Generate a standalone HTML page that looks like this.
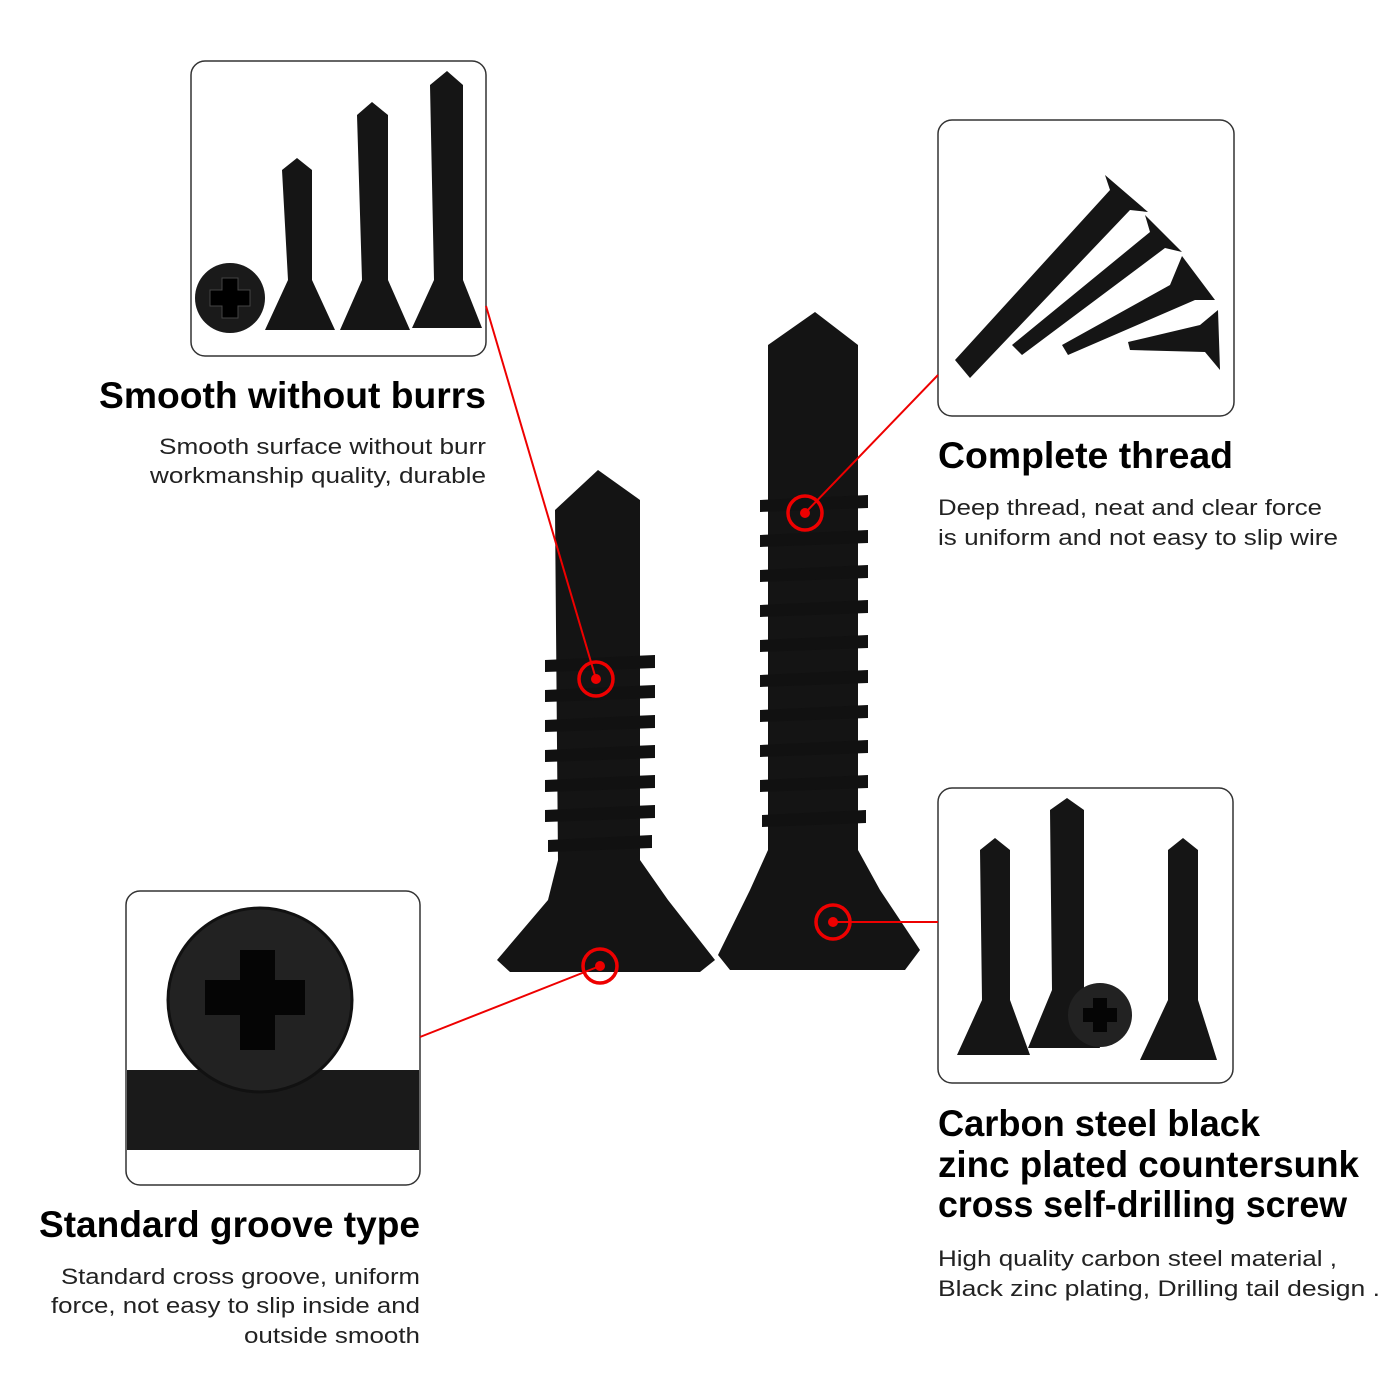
<!DOCTYPE html>
<html><head><meta charset="utf-8"><style>
html,body{margin:0;padding:0;background:#fff}
svg{display:block}
.t{font-family:"Liberation Sans",sans-serif;font-weight:bold;fill:#000}
.s{font-family:"Liberation Sans",sans-serif;fill:#222;font-size:22px}
</style></head><body>
<svg width="1400" height="1400" viewBox="0 0 1400 1400" xmlns="http://www.w3.org/2000/svg">
<!-- boxes -->
<rect x="191" y="61" width="295" height="295" rx="14" fill="#fff" stroke="#333" stroke-width="1.5"/>
<rect x="938" y="120" width="296" height="296" rx="14" fill="#fff" stroke="#333" stroke-width="1.5"/>
<rect x="126" y="891" width="294" height="294" rx="14" fill="#fff" stroke="#333" stroke-width="1.5"/>
<rect x="938" y="788" width="295" height="295" rx="14" fill="#fff" stroke="#333" stroke-width="1.5"/>

<!-- box1 content -->
<circle cx="230" cy="298" r="35" fill="#1a1a1a"/>
<path d="M222 278h16v12h12v16h-12v12h-16v-12h-12v-16h12z" fill="#000" stroke="#444"/>
<g fill="#151515">
<path d="M282 170 L297 158 L312 170 L312 280 L335 330 L265 330 L288 280 Z"/>
<path d="M357 115 L372 102 L388 115 L388 280 L410 330 L340 330 L362 280 Z"/>
<path d="M430 85 L447 71 L463 85 L463 280 L482 328 L412 328 L434 280 Z"/>
</g>
<!-- box2 content -->
<g fill="#151515">
<path d="M955 360 L1110 190 L1105 175 L1148 212 L1130 210 L970 378 Z"/>
<path d="M1012 345 L1150 232 L1145 215 L1182 252 L1165 248 L1022 355 Z"/>
<path d="M1062 345 L1170 285 L1182 256 L1215 300 L1195 300 L1068 355 Z"/>
<path d="M1128 342 L1200 325 L1218 310 L1220 370 L1205 352 L1130 350 Z"/>
</g>
<!-- box3 content -->
<rect x="127" y="1070" width="292" height="80" fill="#1a1a1a"/>
<circle cx="260" cy="1000" r="92" fill="#222" stroke="#111" stroke-width="3"/>
<path d="M240 950 h35 v30 h30 v35 h-30 v35 h-35 v-35 h-35 v-35 h35 z" fill="#050505"/>
<!-- box4 content -->
<g fill="#151515">
<path d="M980 850 L995 838 L1010 850 L1010 1000 L1030 1055 L957 1055 L982 1000 Z"/>
<path d="M1050 810 L1067 798 L1084 810 L1084 990 L1100 1048 L1028 1048 L1052 990 Z"/>
<path d="M1168 850 L1183 838 L1198 850 L1198 1000 L1217 1060 L1140 1060 L1168 1000 Z"/>
</g>
<circle cx="1100" cy="1015" r="32" fill="#222"/>
<path d="M1093 998h14v10h10v14h-10v10h-14v-10h-10v-14h10z" fill="#050505"/>

<!-- main screws -->
<g fill="#141414">
<path d="M555 510 L598 470 L640 500 L640 860 L668 900 L715 960 L700 972 L510 972 L497 960 L548 900 L558 860 Z"/>
<path d="M768 345 L815 312 L858 345 L858 850 L880 890 L920 950 L905 970 L730 970 L718 955 L750 890 L768 850 Z"/>
</g>
<g fill="#111">
<path d="M545 660 L655 655 L655 668 L545 672Z"/><path d="M545 690 L655 685 L655 698 L545 702Z"/>
<path d="M545 720 L655 715 L655 728 L545 732Z"/><path d="M545 750 L655 745 L655 758 L545 762Z"/>
<path d="M545 780 L655 775 L655 788 L545 792Z"/><path d="M545 810 L655 805 L655 818 L545 822Z"/>
<path d="M548 840 L652 835 L652 848 L548 852Z"/>
<path d="M760 500 L868 495 L868 508 L760 512Z"/><path d="M760 535 L868 530 L868 543 L760 547Z"/>
<path d="M760 570 L868 565 L868 578 L760 582Z"/><path d="M760 605 L868 600 L868 613 L760 617Z"/>
<path d="M760 640 L868 635 L868 648 L760 652Z"/><path d="M760 675 L868 670 L868 683 L760 687Z"/>
<path d="M760 710 L868 705 L868 718 L760 722Z"/><path d="M760 745 L868 740 L868 753 L760 757Z"/>
<path d="M760 780 L868 775 L868 788 L760 792Z"/><path d="M762 815 L866 810 L866 823 L762 827Z"/>
</g>

<!-- connectors -->
<g stroke="#e00" stroke-width="2" fill="none">
<line x1="486" y1="306" x2="596" y2="679"/>
<line x1="938" y1="375" x2="805" y2="513"/>
<line x1="420" y1="1037" x2="600" y2="966"/>
<line x1="938" y1="922" x2="833" y2="922"/>
<g stroke-width="3.5">
<circle cx="596" cy="679" r="17"/><circle cx="805" cy="513" r="17"/>
<circle cx="600" cy="966" r="17"/><circle cx="833" cy="922" r="17"/>
</g>
</g>
<g fill="#e00"><circle cx="596" cy="679" r="5"/><circle cx="805" cy="513" r="5"/><circle cx="600" cy="966" r="5"/><circle cx="833" cy="922" r="5"/></g>

<!-- text -->
<text class="t" x="486" y="408" font-size="37" text-anchor="end" textLength="387" lengthAdjust="spacingAndGlyphs">Smooth without burrs</text>
<text class="s" x="486" y="454" text-anchor="end" textLength="327" lengthAdjust="spacingAndGlyphs">Smooth surface without burr</text>
<text class="s" x="486" y="483" text-anchor="end" textLength="336" lengthAdjust="spacingAndGlyphs">workmanship quality, durable</text>

<text class="t" x="938" y="468" font-size="37" textLength="295" lengthAdjust="spacingAndGlyphs">Complete thread</text>
<text class="s" x="938" y="515" textLength="384" lengthAdjust="spacingAndGlyphs">Deep thread, neat and clear force</text>
<text class="s" x="938" y="545" textLength="400" lengthAdjust="spacingAndGlyphs">is uniform and not easy to slip wire</text>

<text class="t" x="420" y="1237" font-size="37" text-anchor="end" textLength="381" lengthAdjust="spacingAndGlyphs">Standard groove type</text>
<text class="s" x="420" y="1284" text-anchor="end" textLength="359" lengthAdjust="spacingAndGlyphs">Standard cross groove, uniform</text>
<text class="s" x="420" y="1313" text-anchor="end" textLength="369" lengthAdjust="spacingAndGlyphs">force, not easy to slip inside and</text>
<text class="s" x="420" y="1343" text-anchor="end" textLength="176" lengthAdjust="spacingAndGlyphs">outside smooth</text>

<text class="t" x="938" y="1136" font-size="37" textLength="322" lengthAdjust="spacingAndGlyphs">Carbon steel black</text>
<text class="t" x="938" y="1177" font-size="37" textLength="421" lengthAdjust="spacingAndGlyphs">zinc plated countersunk</text>
<text class="t" x="938" y="1217" font-size="37" textLength="409" lengthAdjust="spacingAndGlyphs">cross self-drilling screw</text>
<text class="s" x="938" y="1266" textLength="399" lengthAdjust="spacingAndGlyphs">High quality carbon steel material ,</text>
<text class="s" x="938" y="1296" textLength="442" lengthAdjust="spacingAndGlyphs">Black zinc plating,   Drilling tail design .</text>
</svg>
</body></html>
